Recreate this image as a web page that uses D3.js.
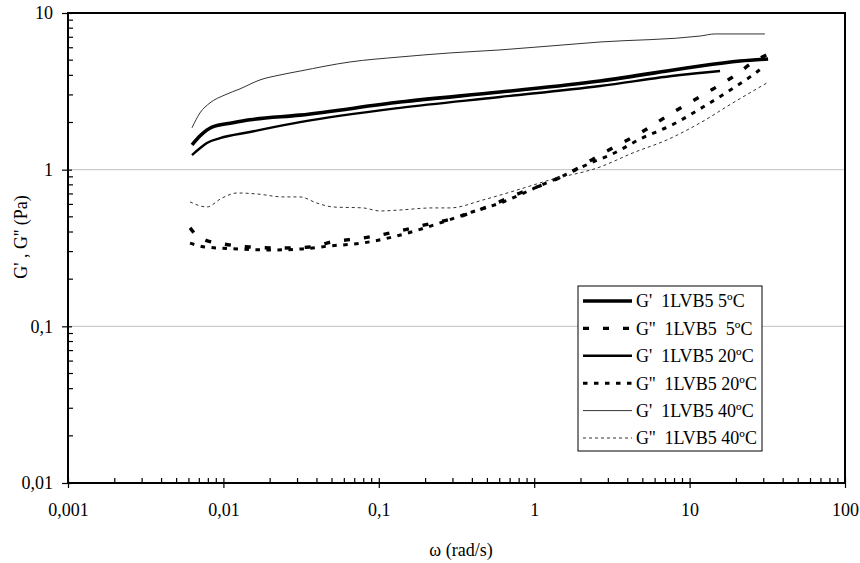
<!DOCTYPE html>
<html>
<head>
<meta charset="utf-8">
<script src="https://cdn.jsdelivr.net/npm/d3@7"></script>
<style>
  body { margin: 0; background: #fff; }
  svg { display: block; }
  text { font-family: "Liberation Serif", "Times New Roman", serif; fill: #000; }
</style>
</head>
<body>
<svg id="chart" width="860" height="563"></svg>
<script>
// ---- data (ω in rad/s, G in Pa) ----
const xTicks = [0.001, 0.01, 0.1, 1, 10, 100];
const xTickLabels = ["0,001", "0,01", "0,1", "1", "10", "100"];
const yTicks = [0.01, 0.1, 1, 10];
const yTickLabels = ["0,01", "0,1", "1", "10"];
const xTitle = "ω (rad/s)";
const yTitle = "G' , G'' (Pa)";

const seriesNames = ["G'  1LVB5 5ºC", "G''  1LVB5  5ºC", "G'  1LVB5 20ºC", "G''  1LVB5 20ºC", "G'  1LVB5 40ºC", "G''  1LVB5 40ºC"];

const gp5_w = [0.00628, 0.00706, 0.00845, 0.0115, 0.0148, 0.0311, 0.137, 0.602, 2.65, 8.67, 11.7, 21.1, 32.0];
const gp5_g = [1.44, 1.64, 1.87, 1.99, 2.08, 2.23, 2.70, 3.13, 3.68, 4.39, 4.59, 4.94, 5.09];

const gpp5_w = [0.00610, 0.00676, 0.00762, 0.00993, 0.0148, 0.0231, 0.0361, 0.0500, 0.0791, 0.127, 0.198, 0.309, 0.497, 0.811, 1.26, 1.97, 2.46, 3.17, 4.94, 7.71, 12.2, 20.2, 25.2, 32.0];
const gpp5_g = [0.425, 0.378, 0.356, 0.336, 0.321, 0.316, 0.321, 0.346, 0.366, 0.400, 0.444, 0.492, 0.578, 0.710, 0.834, 1.04, 1.19, 1.37, 1.74, 2.30, 3.00, 4.08, 4.80, 5.47];

const gp20_w = [0.00628, 0.00706, 0.00783, 0.00951, 0.0148, 0.0311, 0.137, 0.602, 2.65, 8.67, 15.7];
const gp20_g = [1.24, 1.37, 1.48, 1.59, 1.74, 2.01, 2.48, 2.91, 3.42, 4.02, 4.26];

const gpp20_w = [0.00610, 0.00762, 0.01242, 0.0200, 0.0321, 0.0485, 0.0780, 0.123, 0.198, 0.248, 0.398, 0.630, 1.01, 1.58, 2.39, 3.08, 4.94, 7.71, 12.2, 19.6, 24.5, 30.5];
const gpp20_g = [0.340, 0.321, 0.312, 0.307, 0.312, 0.326, 0.340, 0.372, 0.425, 0.457, 0.537, 0.622, 0.764, 0.925, 1.12, 1.24, 1.59, 1.93, 2.51, 3.37, 3.91, 4.59];

const gp40_w = [0.00628, 0.00706, 0.0082, 0.01023, 0.0128, 0.0172, 0.0231, 0.0311, 0.0653, 0.137, 0.287, 0.602, 2.65, 11.7, 14.6, 30.5];
const gp40_g = [1.85, 2.30, 2.67, 3.00, 3.28, 3.74, 4.02, 4.26, 4.87, 5.24, 5.56, 5.81, 6.53, 7.13, 7.35, 7.35];

const gpp40_w = [0.00610, 0.00783, 0.00979, 0.01225, 0.0164, 0.0242, 0.0311, 0.0400, 0.0507, 0.0791, 0.102, 0.137, 0.223, 0.287, 0.469, 0.774, 1.26, 2.65, 4.32, 7.16, 11.7, 19.0, 31.5];
const gpp40_g = [0.622, 0.578, 0.659, 0.710, 0.700, 0.670, 0.670, 0.612, 0.578, 0.570, 0.545, 0.553, 0.570, 0.570, 0.641, 0.741, 0.859, 1.04, 1.28, 1.55, 1.99, 2.67, 3.58];

// ---- styles ----
const styles = [
  { w: gp5_w,   g: gp5_g,   width: 3.6, dash: null,       color: "#000" },
  { w: gpp5_w,  g: gpp5_g,  width: 3.4, dash: "6,14",     color: "#000" },
  { w: gp20_w,  g: gp20_g,  width: 2.4, dash: null,       color: "#000" },
  { w: gpp20_w, g: gpp20_g, width: 3.0, dash: "4.5,6.5",  color: "#000" },
  { w: gp40_w,  g: gp40_g,  width: 1.0, dash: null,       color: "#333" },
  { w: gpp40_w, g: gpp40_g, width: 1.0, dash: "3,3",      color: "#333" }
];

const svg = d3.select("#chart");
const pL = 68, pR = 845, pT = 13, pB = 483;

const x = d3.scaleLog().domain([0.001, 100]).range([pL, pR]);
const y = d3.scaleLog().domain([0.01, 10]).range([pB, pT]);

// gridlines
svg.append("g").selectAll("line")
  .data([0.1, 1])
  .join("line")
  .attr("x1", pL).attr("x2", pR)
  .attr("y1", d => y(d)).attr("y2", d => y(d))
  .attr("stroke", "#c0c0c0").attr("stroke-width", 1);

// minor ticks
function minors(lo, hi) {
  const out = [];
  for (let e = Math.round(Math.log10(lo)); e < Math.round(Math.log10(hi)); e++) {
    for (let k = 2; k <= 9; k++) out.push(k * Math.pow(10, e));
  }
  return out;
}

// x axis
const xAxis = d3.axisBottom(x).tickValues(xTicks).tickSize(5).tickFormat((d, i) => xTickLabels[i]);
const gx = svg.append("g").attr("transform", `translate(0,${pB})`).call(xAxis);
gx.select(".domain").remove();
gx.selectAll(".tick line").attr("y1", -5).attr("y2", 5).attr("stroke", "#000").attr("stroke-width", 1.2);
gx.selectAll(".tick text").attr("y", 20).attr("dy", "0.71em").style("font-size", "18px").style("font-family", "'Liberation Serif', serif");
svg.append("g").selectAll("line").data(minors(0.001, 100)).join("line")
  .attr("x1", d => x(d)).attr("x2", d => x(d))
  .attr("y1", pB - 5).attr("y2", pB)
  .attr("stroke", "#000").attr("stroke-width", 1.2);

// y axis
const yAxis = d3.axisLeft(y).tickValues(yTicks).tickSize(6).tickFormat((d, i) => yTickLabels[i]);
const gy = svg.append("g").attr("transform", `translate(${pL},0)`).call(yAxis);
gy.select(".domain").remove();
gy.selectAll(".tick line").attr("x1", -6).attr("x2", 4).attr("stroke", "#000").attr("stroke-width", 1.2);
gy.selectAll(".tick text").attr("x", -15).style("font-size", "18px").style("font-family", "'Liberation Serif', serif");
svg.append("g").selectAll("line").data(minors(0.01, 10)).join("line")
  .attr("x1", pL).attr("x2", pL + 5)
  .attr("y1", d => y(d)).attr("y2", d => y(d))
  .attr("stroke", "#000").attr("stroke-width", 1.2);

// frame
svg.append("rect")
  .attr("x", pL).attr("y", pT)
  .attr("width", pR - pL).attr("height", pB - pT)
  .attr("fill", "none").attr("stroke", "#000").attr("stroke-width", 2);

// lines
const line = d3.line()
  .x(d => x(d[0]))
  .y(d => y(d[1]))
  .curve(d3.curveMonotoneX);

styles.forEach(s => {
  const pts = s.w.map((w, i) => [w, s.g[i]]);
  svg.append("path")
    .datum(pts)
    .attr("d", line)
    .attr("fill", "none")
    .attr("stroke", s.color)
    .attr("stroke-width", s.width)
    .attr("stroke-dasharray", s.dash)
    .attr("stroke-linejoin", "round");
});

// legend
const lg = svg.append("g");
lg.append("rect")
  .attr("x", 578).attr("y", 286).attr("width", 184).attr("height", 165)
  .attr("fill", "#fff").attr("stroke", "#000").attr("stroke-width", 1);
seriesNames.forEach((name, i) => {
  const yy = 301 + i * 27.4;
  const s = styles[i];
  lg.append("line")
    .attr("x1", 583).attr("x2", 632).attr("y1", yy).attr("y2", yy)
    .attr("stroke", s.color).attr("stroke-width", s.width)
    .attr("stroke-dasharray", s.dash);
  lg.append("text")
    .attr("x", 636).attr("y", yy).attr("dy", "0.35em")
    .style("font-size", "18px")
    .style("white-space", "pre")
    .attr("xml:space", "preserve")
    .text(name);
});

// axis titles
svg.append("text")
  .attr("x", 461).attr("y", 556)
  .attr("text-anchor", "middle")
  .style("font-size", "18px")
  .text(xTitle);
svg.append("text")
  .attr("transform", "translate(27,237) rotate(-90)")
  .attr("text-anchor", "middle")
  .style("font-size", "18px")
  .style("white-space", "pre")
  .attr("xml:space", "preserve")
  .text(yTitle);
</script>
</body>
</html>
